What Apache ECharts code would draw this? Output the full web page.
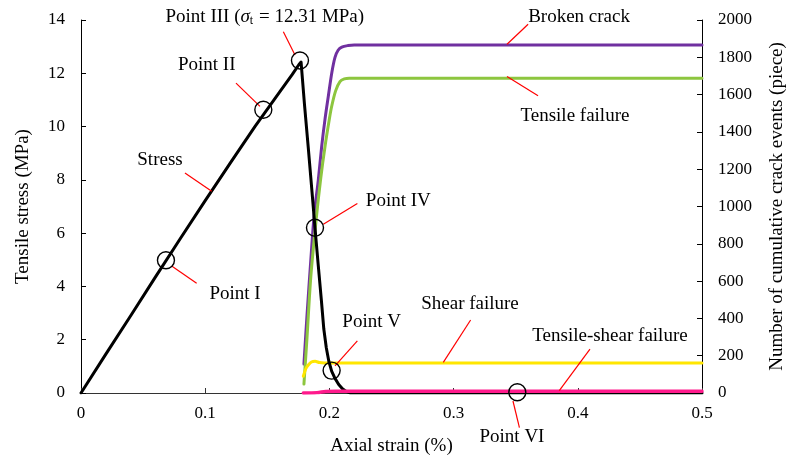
<!DOCTYPE html>
<html>
<head>
<meta charset="utf-8">
<script src="https://cdn.jsdelivr.net/npm/echarts@6/dist/echarts.min.js"></script>
<style>html,body{margin:0;padding:0;background:#fff;}#c{width:796px;height:461px;}</style>
</head>
<body>
<div id="c"></div>
<script>
// ---- data ----
var stressX = [0, 0.02, 0.04, 0.06, 0.08, 0.10, 0.12, 0.14, 0.16, 0.17, 0.1755, 0.1772, 0.180, 0.183, 0.186, 0.1884, 0.1911, 0.1935, 0.1955, 0.1975, 0.1995, 0.2018, 0.2045, 0.2075, 0.2105, 0.2135, 0.217, 0.5];
var stressY = [0, 1.46, 2.90, 4.36, 5.80, 7.22, 8.62, 10.00, 11.30, 11.95, 12.33, 12.42, 10.80, 9.20, 7.55, 6.20, 4.75, 3.50, 2.40, 1.70, 1.20, 0.82, 0.55, 0.32, 0.16, 0.06, 0, 0];

var brokenX = [0.1795, 0.182, 0.185, 0.1878, 0.1911, 0.1938, 0.1965, 0.1991, 0.202, 0.2045, 0.207, 0.210, 0.215, 0.220, 0.5];
var brokenY = [155, 420, 710, 960, 1144, 1323, 1470, 1590, 1720, 1800, 1838, 1855, 1863, 1866, 1866];

var tensileX = [0.1795, 0.182, 0.185, 0.1895, 0.193, 0.1965, 0.200, 0.2018, 0.205, 0.2085, 0.212, 0.216, 0.5];
var tensileY = [48, 300, 620, 940, 1150, 1323, 1470, 1536, 1620, 1670, 1684, 1688, 1688];

var shearX = [0.179, 0.181, 0.183, 0.1855, 0.1885, 0.192, 0.196, 0.5];
var shearY = [90, 130, 150, 166, 170, 163, 161, 161];

var tsX = [0.179, 0.190, 0.197, 0.205, 0.5];
var tsY = [0, 2, 8, 10, 10];

var xTicks = [0, 0.1, 0.2, 0.3, 0.4, 0.5];
var leftTicks = [0, 2, 4, 6, 8, 10, 12, 14];
var rightTicks = [0, 200, 400, 600, 800, 1000, 1200, 1400, 1600, 1800, 2000];

// annotation points (stress-axis coordinates)
var circlePts = [[0.0684, 4.98], [0.1468, 10.63], [0.1763, 12.48], [0.1884, 6.20], [0.2018, 0.84], [0.3513, 0.03]];
var leaderLines = [
  [[0.073, 4.77], [0.0931, 4.12]],
  [[0.0837, 8.26], [0.1052, 7.57]],
  [[0.1248, 11.63], [0.1441, 10.76]],
  [[0.1629, 13.56], [0.1723, 12.69]],
  [[0.1951, 6.33], [0.2225, 7.11]],
  [[0.2045, 1.02], [0.2225, 1.96]],
  [[0.3478, -0.30], [0.3530, -1.30]],
  [[0.2917, 1.15], [0.3137, 2.74]],
  [[0.3851, 0.09], [0.4098, 1.65]],
  [[0.3430, 13.09], [0.3600, 13.84]],
  [[0.3430, 11.88], [0.3680, 11.16]]
];
var textLabels = [
  ['Point I', 0.124, 3.71],
  ['Stress', 0.0636, 8.76],
  ['Point II', 0.1012, 12.32],
  ['III', 0.148, 14.13],
  ['Point IV', 0.2555, 7.20],
  ['Point V', 0.234, 2.68],
  ['Point VI', 0.347, -1.65],
  ['Shear failure', 0.3132, 3.33],
  ['Tensile-shear failure', 0.4259, 2.15],
  ['Broken crack', 0.4010, 14.10],
  ['Tensile failure', 0.3977, 10.41]
];

function zip(a, b) { return a.map(function (v, i) { return [v, b[i]]; }); }

var FONT = 'Liberation Serif';
var chart = echarts.init(document.getElementById('c'));

function lineSeries(name, axis, xs, ys, color, width, z, smooth) {
  return { name: name, type: 'line', yAxisIndex: axis, data: zip(xs, ys), smooth: smooth,
    showSymbol: false, lineStyle: { color: color, width: width, join: 'round', cap: 'round' }, z: z, silent: true };
}

var option = {
  animation: false,
  backgroundColor: '#fff',
  grid: { left: 81, right: 94, top: 20, bottom: 67, containLabel: false },
  xAxis: {
    type: 'value', min: 0, max: 0.5, interval: 0.1,
    name: 'Axial strain (%)', nameLocation: 'middle', nameGap: 44,
    nameTextStyle: { fontFamily: FONT, fontSize: 19, color: '#000' },
    axisLine: { show: true, onZero: false, lineStyle: { color: '#333', width: 1 } },
    axisTick: { show: true, inside: true, length: 5, lineStyle: { color: '#333' } },
    axisLabel: { fontFamily: FONT, fontSize: 17, color: '#000', margin: 12,
      formatter: function (v) { return xTicks.indexOf(+v.toFixed(1)) >= 0 ? String(+v.toFixed(1)) : ''; } },
    splitLine: { show: false }
  },
  yAxis: [{
    type: 'value', min: 0, max: 14, interval: 2, position: 'left',
    name: 'Tensile stress (MPa)', nameLocation: 'middle', nameGap: 48, nameRotate: 90,
    nameTextStyle: { fontFamily: FONT, fontSize: 19, color: '#000' },
    axisLine: { show: true, lineStyle: { color: '#000', width: 1 } },
    axisTick: { show: true, inside: true, length: 5, lineStyle: { color: '#000' } },
    axisLabel: { fontFamily: FONT, fontSize: 17, color: '#000', margin: 16,
      formatter: function (v) { return leftTicks.indexOf(v) >= 0 ? String(v) : ''; } },
    splitLine: { show: false }
  }, {
    type: 'value', min: 0, max: 2000, interval: 200, position: 'right',
    name: 'Number of cumulative crack events (piece)', nameLocation: 'middle', nameGap: 66, nameRotate: 90,
    nameTextStyle: { fontFamily: FONT, fontSize: 19, color: '#000' },
    axisLine: { show: true, lineStyle: { color: '#000', width: 1 } },
    axisTick: { show: true, inside: true, length: 5, lineStyle: { color: '#000' } },
    axisLabel: { fontFamily: FONT, fontSize: 17, color: '#000', margin: 16,
      formatter: function (v) { return rightTicks.indexOf(v) >= 0 ? String(v) : ''; } },
    splitLine: { show: false }
  }],
  series: [
    lineSeries('Broken crack', 1, brokenX, brokenY, '#7030a0', 3, 2, 0.3),
    lineSeries('Tensile failure', 1, tensileX, tensileY, '#8dc63f', 3, 2, 0.3),
    lineSeries('Shear failure', 1, shearX, shearY, '#ffe600', 3, 2, 0.3),
    lineSeries('Stress', 0, stressX, stressY, '#000', 3, 3, false),
    lineSeries('Tensile-shear failure', 1, tsX, tsY, '#ff1a8c', 3.5, 4, 0.3)
  ]
};
chart.setOption(option);

// annotations placed through the chart's own coordinate conversion
function px(p) { return chart.convertToPixel({ xAxisIndex: 0, yAxisIndex: 0 }, p); }
var graphics = [];
leaderLines.forEach(function (l) {
  var a = px(l[0]), b = px(l[1]);
  graphics.push({ type: 'line', silent: true, z: 100,
    shape: { x1: a[0], y1: a[1], x2: b[0], y2: b[1] },
    style: { stroke: '#ff0000', lineWidth: 1.2 } });
});
circlePts.forEach(function (p) {
  var c = px(p);
  graphics.push({ type: 'circle', silent: true, z: 101,
    shape: { cx: c[0], cy: c[1], r: 8.5 },
    style: { fill: 'rgba(0,0,0,0)', stroke: '#000', lineWidth: 1.4 } });
});
textLabels.forEach(function (t) {
  var c = px([t[1], t[2]]);
  var style = { text: t[0], x: c[0], y: c[1], align: 'center', verticalAlign: 'middle',
    fontFamily: FONT, fontSize: 19, fill: '#000' };
  if (t[0] === 'III') {
    style.text = '{a|Point III (}{s|σ}{b|t}{a| = 12.31 MPa)}';
    style.rich = {
      a: { fontFamily: FONT, fontSize: 19, fill: '#000' },
      s: { fontFamily: FONT, fontSize: 19, fontStyle: 'italic', fill: '#000' },
      b: { fontFamily: FONT, fontSize: 12, fill: '#000', verticalAlign: 'bottom', padding: [9, 1, 0, 0] }
    };
  }
  graphics.push({ type: 'text', silent: true, z: 102, style: style });
});
chart.setOption({ graphic: graphics });
</script>
</body>
</html>
